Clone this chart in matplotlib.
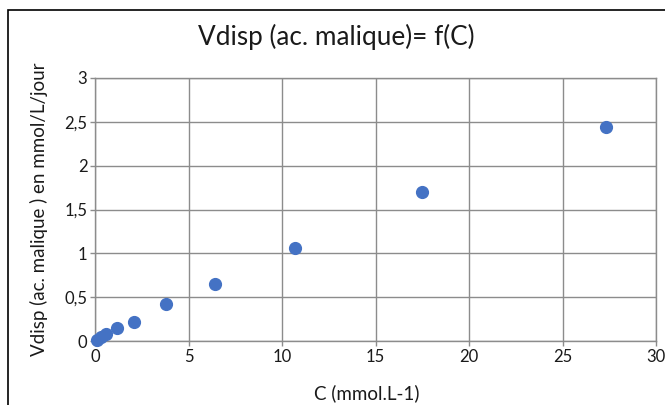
import matplotlib
matplotlib.use("Agg")
import matplotlib.pyplot as plt
from matplotlib.patches import Rectangle

plt.rcParams['font.family'] = ['Lato', 'DejaVu Sans']

conc = [0.1, 0.3, 0.6, 1.2, 2.1, 3.8, 6.4, 10.7, 17.5, 27.3]
vdisp = [0.01, 0.04, 0.08, 0.15, 0.22, 0.42, 0.65, 1.06, 1.70, 2.44]
x_ticks = [0, 5, 10, 15, 20, 25, 30]
y_ticks = [0, 0.5, 1, 1.5, 2, 2.5, 3]
y_tick_labels = ["0", "0,5", "1", "1,5", "2", "2,5", "3"]

fig = plt.figure(figsize=(6.65, 4.05), dpi=100)
ax = fig.add_axes([95/665, 1-341/405, (656-95)/665, (341-78)/405])

ax.scatter(conc, vdisp, s=72, color='#4472C4', zorder=3, clip_on=False)
ax.set_xlim(0, 30)
ax.set_ylim(0, 3)
ax.set_xticks(x_ticks)
ax.set_yticks(y_ticks)
ax.set_yticklabels(y_tick_labels)
ax.grid(True, color='#8c8c8c', linewidth=1.0)
ax.set_axisbelow(True)
for s in ax.spines.values():
    s.set_color('#8c8c8c')
    s.set_linewidth(1.0)
ax.tick_params(length=3.5, width=1.0, color='#8c8c8c', labelsize=12, labelcolor='#1a1a1a', pad=2)
ax.set_xlabel("C (mmol.L-1)", fontsize=13.5, color='#1a1a1a', labelpad=13)
ax.xaxis.set_label_coords(0.485, -0.165)
ax.set_ylabel("Vdisp (ac. malique ) en mmol/L/jour", fontsize=13.5, color='#1a1a1a', labelpad=12)
fig.text(336/665, 1-37/405, "Vdisp (ac. malique)= f(C)", fontsize=18.8, ha='center', va='center', color='#1a1a1a')

fig.patches.append(Rectangle((8/665, -0.1), 1.2, 1 - 10/405 + 0.1, transform=fig.transFigure,
                             fill=False, edgecolor='black', linewidth=1.2))

fig.savefig("out.png", dpi=100)
